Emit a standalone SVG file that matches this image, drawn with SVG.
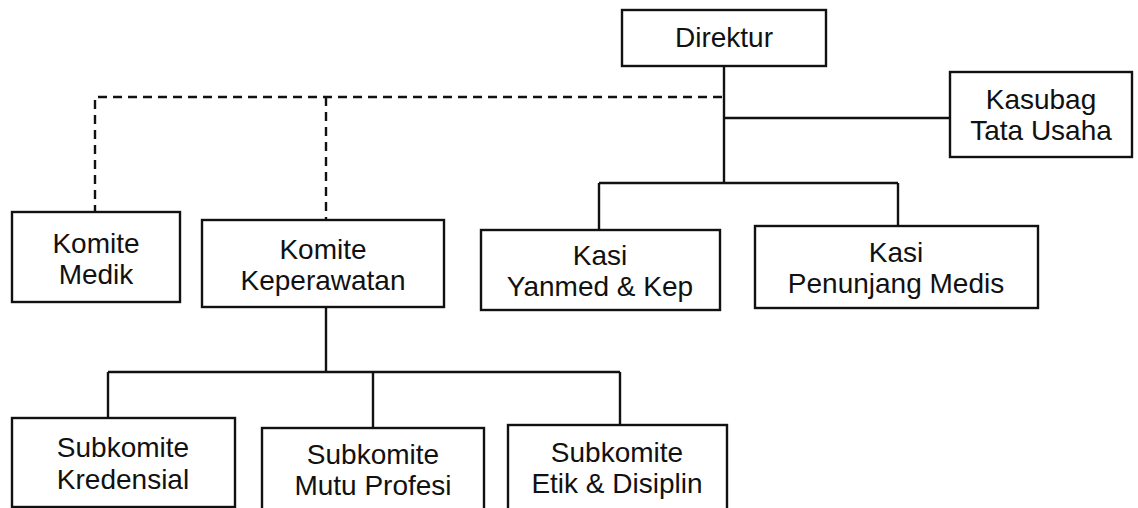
<svg xmlns="http://www.w3.org/2000/svg" width="1138" height="508" viewBox="0 0 1138 508">
<style>
.box{fill:#fff;stroke:#111;stroke-width:2.4}
.t{font-family:"Liberation Sans",Arial,sans-serif;font-size:28px;fill:#111;text-anchor:middle}
.ln{fill:none;stroke:#111;stroke-width:2.4}
.dash{fill:none;stroke:#111;stroke-width:2.4;stroke-dasharray:9 6}
</style>
<rect width="1138" height="508" fill="#fff"/>
<g id="connectors">
<path class="ln" d="M724 66 V183 M724 118 H950 M599 183 H898 M599 183 V230 M898 183 V226"/>
<path class="dash" d="M722 97 H95 V212 M326 97 V220"/>
<path class="ln" d="M326 307 V372 M108 372 H620 M108 372 V418 M373 372 V428 M620 372 V425"/>
</g>
<g id="direktur"><rect class="box" x="622" y="10" width="204" height="56"/><text class="t" x="724" y="47">Direktur</text></g>
<g id="kasubag"><rect class="box" x="950" y="72" width="182" height="85"/><text class="t" x="1041" y="109">Kasubag</text><text class="t" x="1041" y="140">Tata Usaha</text></g>
<g id="komite-medik"><rect class="box" x="12" y="212" width="168" height="90"/><text class="t" x="96" y="253">Komite</text><text class="t" x="96" y="284">Medik</text></g>
<g id="komite-keperawatan"><rect class="box" x="202" y="220" width="242" height="87"/><text class="t" x="323" y="259">Komite</text><text class="t" x="323" y="290">Keperawatan</text></g>
<g id="kasi-yanmed"><rect class="box" x="481" y="230" width="239" height="80"/><text class="t" x="600" y="265">Kasi</text><text class="t" x="600" y="296">Yanmed &amp; Kep</text></g>
<g id="kasi-penunjang"><rect class="box" x="755" y="226" width="283" height="82"/><text class="t" x="896" y="262">Kasi</text><text class="t" x="896" y="293">Penunjang Medis</text></g>
<g id="sub-kredensial"><rect class="box" x="12" y="418" width="223" height="89"/><text class="t" x="123" y="457">Subkomite</text><text class="t" x="123" y="489">Kredensial</text></g>
<g id="sub-mutu"><rect class="box" x="262" y="428" width="222" height="82"/><text class="t" x="373" y="464">Subkomite</text><text class="t" x="373" y="495">Mutu Profesi</text></g>
<g id="sub-etik"><rect class="box" x="508" y="425" width="219" height="85"/><text class="t" x="617" y="462">Subkomite</text><text class="t" x="617" y="493">Etik &amp; Disiplin</text></g>
</svg>
